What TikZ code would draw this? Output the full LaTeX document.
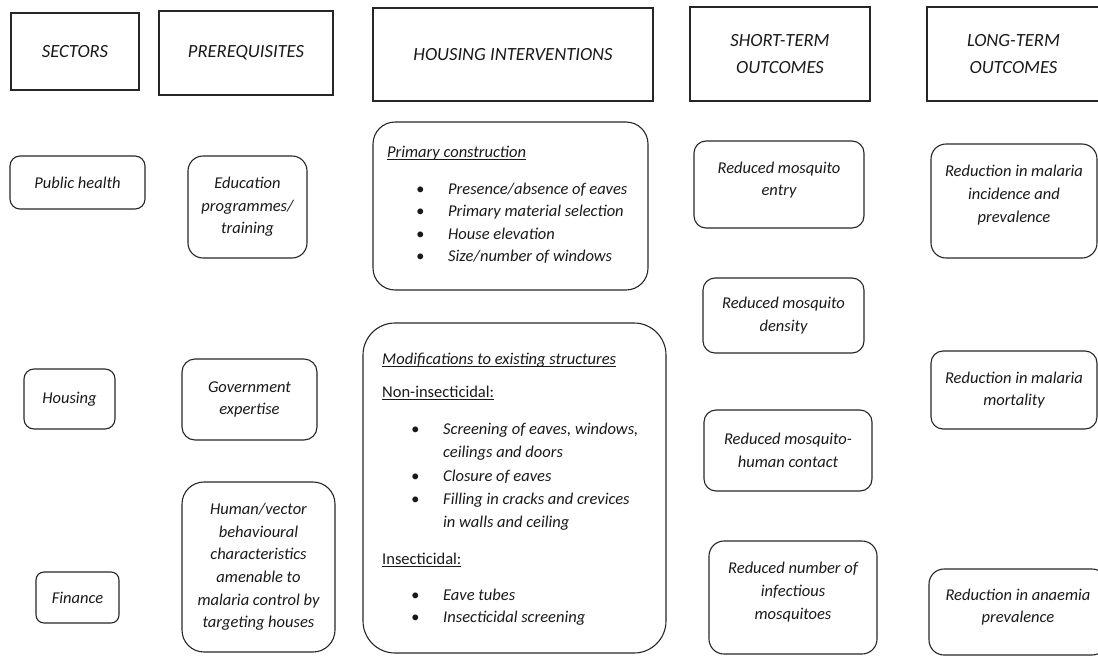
\documentclass[tikz,border=0pt]{standalone}
\usepackage{fontspec}
\setmainfont{Carlito}
\newcommand\myul[1]{\setbox0\hbox{#1}\rlap{\rule[-2.4pt]{\wd0}{0.9pt}}\box0}
\newcommand\blt[2]{\makebox[#1][l]{\textbullet}#2}
\begin{document}
\begin{tikzpicture}[x=1pt,y=-1pt,
  every node/.style={text=black!90},
  sz/.style 2 args={minimum width=#1pt, minimum height=#2pt},
  hdr/.style={draw=black!85, line width=1.1pt, inner sep=0pt, align=center,
    font=\fontsize{18.6}{27}\selectfont\itshape},
  rbox/.style={draw=black!85, line width=1.1pt, inner sep=0pt, align=center,
    rounded corners=#1, font=\fontsize{16.5}{22.6}\selectfont\itshape},
  rbox/.default=12pt,
  lab/.style={align=center, inner sep=0pt, font=\fontsize{16.5}{22.6}\selectfont\itshape},
  ln/.style={anchor=base west, inner sep=0pt, font=\fontsize{16.5}{22.6}\selectfont\itshape},
]
\useasboundingbox (0,0) rectangle (1098,656);
\clip (0,0) rectangle (1098,656);

% headers
\node[hdr, sz={128}{77}] (hSec) at (75,51.5) {SECTORS};
\node[hdr, sz={174}{84}] (hPre) at (246,53) {PREREQUISITES};
\node[hdr, sz={280}{93}] (hHou) at (513,54.5) {HOUSING INTERVENTIONS};
\node[hdr, sz={180}{94}] (hST) at (780,54) {SHORT-TERM\\OUTCOMES};
\node[hdr, sz={173}{94}] (hLT) at (1013.5,54) {LONG-TERM\\OUTCOMES};

% sectors
\node[rbox=10pt, sz={135}{53}] (pub) at (77.5,182.5) {Public health};
\node[rbox=10pt, sz={91}{60}] (hous) at (69.5,399) {Housing};
\node[rbox=8pt, sz={83}{51}] (fin) at (77.5,597.5) {Finance};

% prerequisites
\node[rbox=15pt, sz={119}{102}] (edu) at (247.5,207) {Education\\programmes/\\training};
\node[rbox=13pt, sz={135}{81}] (gov) at (249.5,399.5) {Government\\expertise};
\node[rbox=22pt, sz={153}{170}] (hum) at (258.5,567) {Human/vector\\behavioural\\characteristics\\amenable to\\malaria control by\\targeting houses};

% housing interventions
\node[rbox=22pt, sz={275}{168}] (prim) at (510.5,206) {};
\node[ln] (primT) at (387,157) {\myul{Primary construction}};
\node[ln] (prim1) at (416,194) {\blt{32pt}{Presence/absence of eaves}};
\node[ln] (prim2) at (416,216.5) {\blt{32pt}{Primary material selection}};
\node[ln] (prim3) at (416,239) {\blt{32pt}{House elevation}};
\node[ln] (prim4) at (416,261.5) {\blt{32pt}{Size/number of windows}};

\node[rbox=32pt, sz={303}{330}] (mod) at (514.5,488) {};
\node[ln] (modT) at (382,364) {\myul{Modifications to existing structures}};
\node[ln] (modN) at (382,397) {\upshape\myul{Non-insecticidal:}};
\node[ln] (mod1) at (411,434) {\blt{32pt}{Screening of eaves, windows,}};
\node[ln] (mod1b) at (443,457) {ceilings and doors};
\node[ln] (mod2) at (411,481) {\blt{32pt}{Closure of eaves}};
\node[ln] (mod3) at (411,504) {\blt{32pt}{Filling in cracks and crevices}};
\node[ln] (mod3b) at (443,527) {in walls and ceiling};
\node[ln] (modI) at (382,564) {\upshape\myul{Insecticidal:}};
\node[ln] (mod4) at (411,600) {\blt{32pt}{Eave tubes}};
\node[ln] (mod5) at (411,622.5) {\blt{32pt}{Insecticidal screening}};

% short-term outcomes
\node[rbox, sz={170}{87},
  label={[lab, yshift=4.5pt]center:Reduced mosquito\\entry}] (entry) at (779,184.5) {};
\node[rbox, sz={161}{75}] (dens) at (783.5,315.5) {Reduced mosquito\\density};
\node[rbox, sz={168}{81}] (cont) at (788,450.5) {Reduced mosquito-\\human contact};
\node[rbox=15pt, sz={168}{113},
  label={[lab, yshift=5.5pt]center:Reduced number of\\infectious\\mosquitoes}] (inf) at (793,597.5) {};

% long-term outcomes
\node[rbox=15pt, sz={166}{114},
  label={[lab, yshift=6pt]center:Reduction in malaria\\incidence and\\prevalence}] (inc) at (1014,201) {};
\node[rbox, sz={166}{78}] (mort) at (1014,390) {Reduction in malaria\\mortality};
\node[rbox=15pt, sz={178}{86},
  label={[lab, yshift=5pt]center:Reduction in anaemia\\prevalence}] (ana) at (1018,612) {};
\end{tikzpicture}
\end{document}
